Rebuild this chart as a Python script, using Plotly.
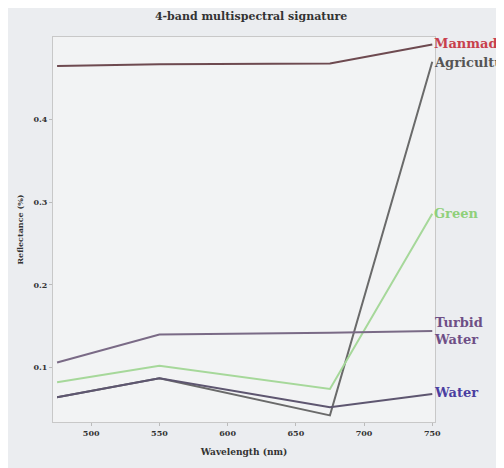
import plotly.graph_objects as go

wavelengths = [475, 550, 675, 750]
manmade = [0.465, 0.467, 0.468, 0.491]
agriculture = [0.064, 0.087, 0.042, 0.470]
green = [0.082, 0.102, 0.074, 0.286]
turbid_water = [0.106, 0.140, 0.142, 0.144]
water = [0.064, 0.087, 0.052, 0.068]

x_ticks = [500, 550, 600, 650, 700, 750]
y_ticks = [0.1, 0.2, 0.3, 0.4]

series = [
    ("Manmade", manmade, "#6e4a50", "#c8404c", 1),
    ("Agriculture", agriculture, "#6a6a6a", "#555555", -1),
    ("Green", green, "#a6d89a", "#8fd07a", 0),
    ("Turbid<br>Water", turbid_water, "#7a6a86", "#6e4f86", 0),
    ("Water", water, "#5e5670", "#4a3ea0", 1),
]

fig = go.Figure()
for name, vals, lc, tc, dy in series:
    fig.add_trace(go.Scatter(x=wavelengths, y=vals, mode="lines",
                             line=dict(color=lc, width=2), name=name.replace("<br>", " "),
                             showlegend=False))
    fig.add_annotation(x=wavelengths[-1], y=vals[-1], text="<b>" + name + "</b>",
                       showarrow=False, xanchor="left", xshift=0, yshift=dy,
                       font=dict(family="DejaVu Serif", size=13, color=tc), align="left")

fig.update_layout(
    width=496, height=460,
    margin=dict(l=45, r=69, t=29, b=43),
    paper_bgcolor="#ebedf0", plot_bgcolor="#f2f3f4",
    title=dict(text="<b>4-band multispectral signature</b>", x=0.49, xanchor="center",
               y=0.99, yanchor="top",
               font=dict(family="DejaVu Serif", size=11, color="#333333")),
    font=dict(family="DejaVu Serif", size=8, color="#333333"),
)
fig.update_xaxes(range=[472, 752], tickvals=x_ticks, ticktext=[f"<b>{v}</b>" for v in x_ticks],
                 showgrid=False, zeroline=False, showline=True, linecolor="#c8c8c8", mirror=True,
                 ticks="outside", ticklen=3, tickcolor="#bbbbbb",
                 title=dict(text="<b>Wavelength (nm)</b>", font=dict(size=9), standoff=12))
fig.update_yaxes(range=[0.034, 0.5], tickvals=y_ticks, ticktext=[f"<b>{v}</b>" for v in y_ticks],
                 showgrid=False, zeroline=False, showline=True, linecolor="#c8c8c8", mirror=True,
                 ticks="outside", ticklen=3, tickcolor="#bbbbbb",
                 title=dict(text="<b>Reflectance (%)</b>", font=dict(size=8), standoff=8))

fig.write_html("out.html")
